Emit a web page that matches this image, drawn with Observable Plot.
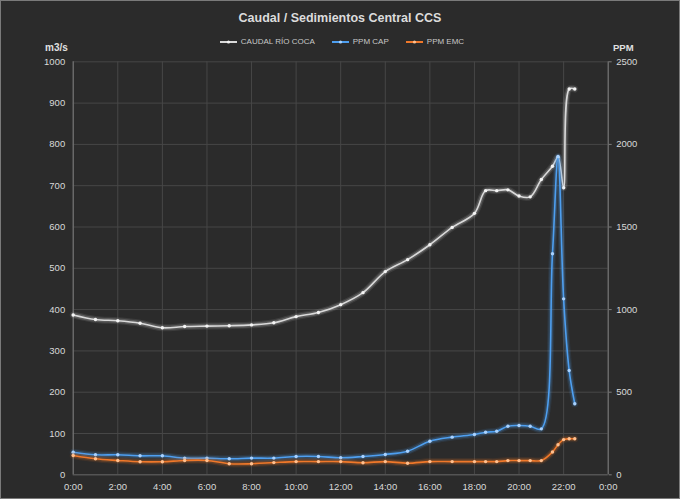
<!DOCTYPE html>
<html>
<head>
<meta charset="utf-8">
<script src="https://cdn.jsdelivr.net/npm/d3@7"></script>
<script src="https://cdn.jsdelivr.net/npm/@observablehq/plot@0.6"></script>
<style>
html, body { margin: 0; padding: 0; background: #2b2b2b; }
#chart { position: relative; width: 680px; height: 499px; background: #2b2b2b; overflow: hidden;
  font-family: "Liberation Sans", Arial, sans-serif; color: #d9d9d9; }
#frame { position: absolute; left: 0; top: 0; width: 680px; height: 499px; box-sizing: border-box;
  border: 1px solid #7a7a7a; pointer-events: none; }
#title { position: absolute; top: 11px; left: 0; width: 680px; text-align: center; font-weight: bold;
  font-size: 12.5px; line-height: 14px; color: #dcdcdc; }
#legend { position: absolute; top: 36px; left: 2px; width: 680px; display: flex; justify-content: center;
  align-items: center; font-size: 8px; line-height: 11px; color: #c8c8c8; gap: 17px; }
#legend .item { display: flex; align-items: center; }
#legend svg { margin-right: 4px; }
.unit { position: absolute; top: 42px; font-weight: bold; font-size: 10px; line-height: 12px; color: #e0e0e0; }
#plot { position: absolute; left: 0; top: 50px; }
</style>
</head>
<body>
<div id="chart">
  <div id="title"></div>
  <div id="legend"></div>
  <div class="unit" id="unitL" style="left:45px;"></div>
  <div class="unit" id="unitR" style="left:613px;font-size:9.5px;"></div>
  <div id="plot"></div>
  <div id="frame"></div>
</div>
<script>
// ---- data ----
const titleText = "Caudal / Sedimientos Central CCS";
const leftUnit = "m3/s";
const rightUnit = "PPM";
const seriesNames = ["CAUDAL RÍO COCA", "PPM CAP", "PPM EMC"];
const seriesColors = ["#d9d9d9", "#4e9ff0", "#f0782a"];
const dotColors = ["#f4f4f4", "#a9d2ff", "#ffc08f"];

const times = ["0:00","1:00","2:00","3:00","4:00","5:00","6:00","7:00","8:00","9:00",
  "10:00","11:00","12:00","13:00","14:00","15:00","16:00","17:00","18:00","18:30",
  "19:00","19:30","20:00","20:30","21:00","21:30","21:45","22:00","22:15","22:30"];
const caudal = [387, 376, 373, 367, 356, 359, 360, 361, 363, 368,
  383, 393, 412, 441, 492, 521, 557, 599, 633, 688,
  688, 690, 675, 673, 715, 747, 769, 695, 934, 934];
const ppmCap = [137, 121, 121, 115, 115, 101, 101, 97, 101, 101,
  111, 111, 103, 111, 123, 143, 203, 228, 244, 258,
  264, 294, 298, 294, 278, 1338, 1927, 1065, 631, 430];
const ppmEmc = [117, 97, 87, 79, 79, 87, 87, 67, 67, 74,
  80, 80, 80, 73, 80, 70, 80, 80, 80, 80,
  80, 86, 86, 86, 86, 138, 182, 213, 218, 218];

const leftTicks = [0, 100, 200, 300, 400, 500, 600, 700, 800, 900, 1000];
const rightTicks = [0, 500, 1000, 1500, 2000, 2500];
const xTickHours = [0, 2, 4, 6, 8, 10, 12, 14, 16, 18, 20, 22, 24];
const xTickLabels = ["0:00","2:00","4:00","6:00","8:00","10:00","12:00","14:00","16:00","18:00","20:00","22:00","0:00"];

// ---- build ----
const k = rightTicks[rightTicks.length - 1] / leftTicks[leftTicks.length - 1];
const toHours = t => { const [h, m] = t.split(":").map(Number); return h + m / 60; };
const rows = times.map((t, i) => ({ h: toHours(t), caudal: caudal[i], cap: ppmCap[i], emc: ppmEmc[i] }));
const series = [
  { key: "caudal", f: 1, color: seriesColors[0], dot: dotColors[0] },
  { key: "cap", f: k, color: seriesColors[1], dot: dotColors[1] },
  { key: "emc", f: k, color: seriesColors[2], dot: dotColors[2] }
];

document.getElementById("title").textContent = titleText;
document.getElementById("unitL").textContent = leftUnit;
document.getElementById("unitR").textContent = rightUnit;

const legend = document.getElementById("legend");
seriesNames.forEach((name, i) => {
  const item = document.createElement("div");
  item.className = "item";
  item.innerHTML = `<svg width="17" height="6"><line x1="0" x2="17" y1="3" y2="3" stroke="${seriesColors[i]}" stroke-width="2"/><circle cx="8.5" cy="3" r="1.6" fill="${dotColors[i]}"/></svg><span>${name}</span>`;
  legend.appendChild(item);
});

const curve = "catmull-rom";
const lineMarks = [];
series.forEach(s => {
  const y = d => d[s.key] / s.f;
  lineMarks.push(Plot.line(rows, { x: "h", y, stroke: s.color, strokeWidth: 7, strokeOpacity: 0.1, curve }));
  lineMarks.push(Plot.line(rows, { x: "h", y, stroke: s.color, strokeWidth: 4.5, strokeOpacity: 0.2, curve }));
  lineMarks.push(Plot.line(rows, { x: "h", y, stroke: s.color, strokeWidth: 1.6, curve }));
  lineMarks.push(Plot.dot(rows, { x: "h", y, r: 1.7, fill: s.dot, stroke: "none" }));
});

const chart = Plot.plot({
  width: 680,
  height: 449,
  marginTop: 11.3,
  marginBottom: 24.7,
  marginLeft: 72.7,
  marginRight: 72.3,
  style: { background: "transparent", color: "#d9d9d9", fontSize: "9.5px", fontFamily: "Liberation Sans, Arial, sans-serif", overflow: "visible" },
  x: { domain: [0, 24], label: null },
  y: { domain: [0, 1000], label: null },
  marks: [
    Plot.gridY(leftTicks, { stroke: "#474747", strokeOpacity: 1, strokeWidth: 1 }),
    Plot.gridX(xTickHours, { stroke: "#474747", strokeOpacity: 1, strokeWidth: 1 }),
    Plot.ruleY([0], { stroke: "#5e5e5e" }),
    Plot.ruleX([0], { stroke: "#7c7c7c" }),
    Plot.ruleX([24], { stroke: "#7c7c7c" }),
    Plot.axisY(leftTicks, { anchor: "left", tickSize: 0, tickPadding: 8, tickFormat: d => String(d), label: null }),
    Plot.axisY(rightTicks.map(v => v / k), { anchor: "right", tickSize: 3, tickPadding: 5, stroke: "#7c7c7c", tickFormat: d => String(Math.round(d * k)), label: null }),
    Plot.axisX(xTickHours, { anchor: "bottom", tickSize: 0, tickPadding: 8, tickFormat: d => xTickLabels[xTickHours.indexOf(d)], label: null }),
    ...lineMarks
  ]
});

document.getElementById("plot").appendChild(chart);
</script>
</body>
</html>
